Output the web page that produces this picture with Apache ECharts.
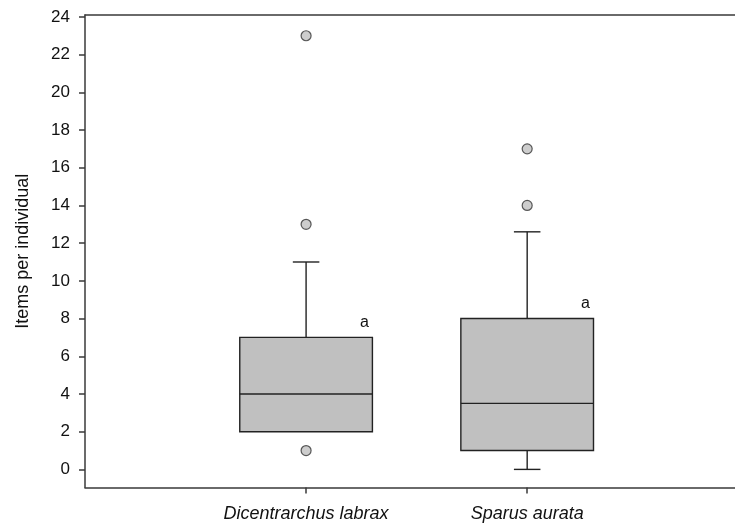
<!DOCTYPE html>
<html><head><meta charset="utf-8">
<script src="https://cdn.jsdelivr.net/npm/echarts@6/dist/echarts.min.js"></script>
<style>html,body{margin:0;padding:0;background:#fff}#c{width:735px;height:530px}</style>
</head><body><div id="c"></div>
<script>
const categories = ['Dicentrarchus labrax', 'Sparus aurata'];
const whiskerLow = [2, 0];
const q1 = [2, 1];
const median = [4, 3.5];
const q3 = [7, 8];
const whiskerHigh = [11, 12.6];
const outliers = [[1, 1], [1, 13], [1, 23], [2, 14], [2, 17]];
const letters = ['a', 'a'];
const yTicks = [0, 2, 4, 6, 8, 10, 12, 14, 16, 18, 20, 22, 24];
const xTicks = [1, 2];

const boxData = categories.map((c, i) => [i + 1, whiskerLow[i], q1[i], median[i], q3[i], whiskerHigh[i]]);
const ink = '#222';
const axisColor = '#3a3a3a';
const font = 'Arial, "Liberation Sans", sans-serif';

function renderItem(params, api) {
  const x = api.value(0);
  const lo = api.coord([x, api.value(1)]);
  const b1 = api.coord([x, api.value(2)]);
  const md = api.coord([x, api.value(3)]);
  const b3 = api.coord([x, api.value(4)]);
  const hi = api.coord([x, api.value(5)]);
  const w = api.size([0.6, 0])[0];
  const cw = api.size([0.12, 0])[0];
  const cx = lo[0];
  const st = { stroke: ink, lineWidth: 1.4 };
  const ch = [];
  if (hi[1] < b3[1] - 0.5) {
    ch.push({ type: 'line', shape: { x1: cx, y1: b3[1], x2: cx, y2: hi[1] }, style: st });
    ch.push({ type: 'line', shape: { x1: cx - cw / 2, y1: hi[1], x2: cx + cw / 2, y2: hi[1] }, style: st });
  }
  if (lo[1] > b1[1] + 0.5) {
    ch.push({ type: 'line', shape: { x1: cx, y1: b1[1], x2: cx, y2: lo[1] }, style: st });
    ch.push({ type: 'line', shape: { x1: cx - cw / 2, y1: lo[1], x2: cx + cw / 2, y2: lo[1] }, style: st });
  }
  ch.push({ type: 'rect', shape: { x: cx - w / 2, y: b3[1], width: w, height: b1[1] - b3[1] },
    style: { fill: '#c0c0c0', stroke: ink, lineWidth: 1.4 } });
  ch.push({ type: 'line', shape: { x1: cx - w / 2, y1: md[1], x2: cx + w / 2, y2: md[1] }, style: st });
  ch.push({ type: 'text', x: cx + w / 2 - 8, y: b3[1] - 15,
    style: { text: letters[params.dataIndex], fill: '#111', font: '16px ' + font, align: 'center', verticalAlign: 'middle' } });
  return { type: 'group', children: ch };
}

const chart = echarts.init(document.getElementById('c'), null, { renderer: 'canvas' });
chart.setOption({
  animation: false,
  backgroundColor: '#fff',
  grid: { left: 85, right: 0, top: 15, bottom: 42.5, show: false },
  xAxis: [{
    type: 'value', min: 0, max: 2.94, position: 'bottom',
    axisLine: { show: true, onZero: false, lineStyle: { color: axisColor, width: 1.5 } },
    axisTick: { show: true, customValues: xTicks, length: 6, lineStyle: { color: axisColor, width: 1.5 } },
    axisLabel: { customValues: xTicks, formatter: v => categories[Math.round(v) - 1] || '', fontStyle: 'italic',
      fontSize: 18, color: '#111', fontFamily: font, margin: 17 },
    splitLine: { show: false }
  }, {
    type: 'value', min: 0, max: 2.94, position: 'top',
    axisLine: { show: true, onZero: false, lineStyle: { color: axisColor, width: 1.5 } },
    axisTick: { show: false }, axisLabel: { show: false }, splitLine: { show: false }
  }],
  yAxis: {
    type: 'value', min: -0.96, max: 24.1,
    name: 'Items per individual', nameLocation: 'middle', nameRotate: 90, nameGap: 53,
    nameTextStyle: { fontSize: 18, color: '#111', fontFamily: font },
    axisLine: { show: true, onZero: false, lineStyle: { color: axisColor, width: 1.5 } },
    axisTick: { show: true, customValues: yTicks, length: 6, lineStyle: { color: axisColor, width: 1.5 } },
    axisLabel: { customValues: yTicks, fontSize: 17, color: '#111', fontFamily: font, margin: 15 },
    splitLine: { show: false }
  },
  series: [
    { type: 'custom', renderItem: renderItem, data: boxData, encode: { x: 0, y: [1, 2, 3, 4, 5] }, clip: false, z: 2 },
    { type: 'scatter', data: outliers, symbol: 'circle', symbolSize: 10,
      itemStyle: { color: '#c0c0c0', borderColor: '#333', borderWidth: 1.2 }, z: 3 }
  ]
});
</script>
</body></html>
